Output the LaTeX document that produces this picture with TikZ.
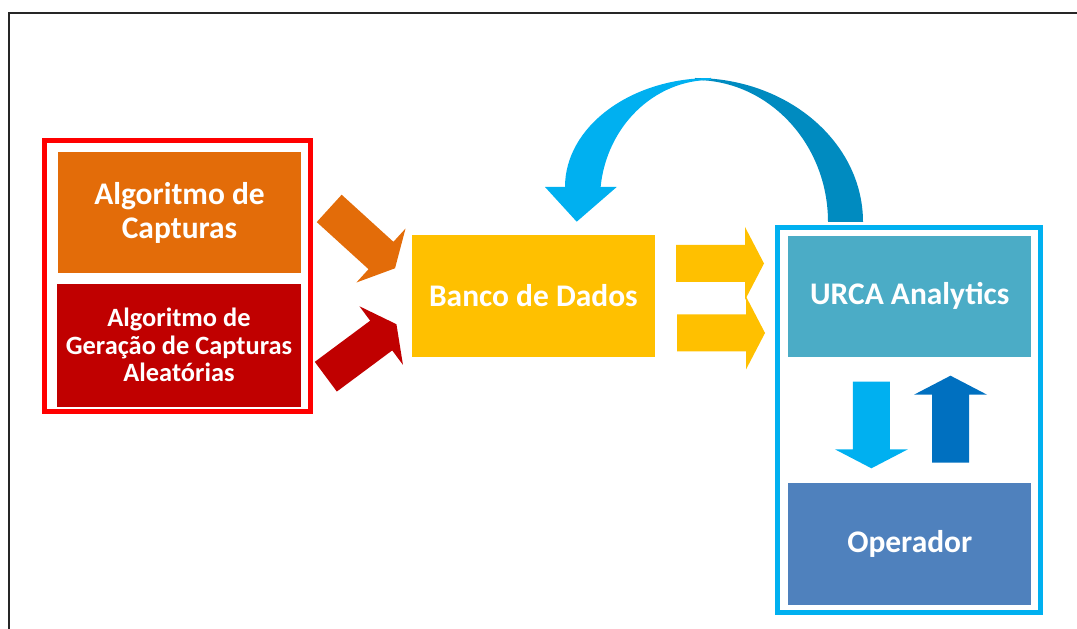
\documentclass[tikz,border=0pt]{standalone}
\usepackage{fontspec}
\setmainfont{Carlito}
\definecolor{algC}{HTML}{E36C09}
\definecolor{gerC}{HTML}{C00000}
\definecolor{dbC}{HTML}{FFC000}
\definecolor{urcaC}{HTML}{4BACC6}
\definecolor{opC}{HTML}{4F81BD}
\definecolor{cyanC}{HTML}{00B0F0}
\definecolor{darkcyanC}{HTML}{008BC0}
\definecolor{upC}{HTML}{0070C0}
\newcommand\blkarrow[4]{%
  \begin{scope}[shift={(#2)},rotate=#3]
    \fill[#1] (0,-18.5) -- ({#4-19},-18.5) -- ({#4-19},-36.5) -- (#4,0)
      -- ({#4-19},36.5) -- ({#4-19},18.5) -- (0,18.5) -- cycle;
  \end{scope}}
\begin{document}
\begin{tikzpicture}[x=0.75pt,y=0.75pt,
  box/.style={rectangle, inner sep=0pt, outer sep=0pt, text=white, align=center,
    font=\fontsize{23.6}{25.5}\selectfont\bfseries},
  smallbox/.style={box, font=\fontsize{19.8}{20.6}\selectfont\bfseries},
  frame/.style={line width=3.75pt}]
\useasboundingbox (0,0) rectangle (1077,628);
% outer frame
\draw[black!85, line width=1.5pt] (9,-5) -- (9,615) -- (1085,615);
% group frames
\draw[frame, red] (44.5,216) rectangle (310,487.5);
\draw[frame, cyanC] (777.5,15.5) rectangle (1040,400.5);
% boxes
\node[box, fill=algC, minimum width=181.8pt, minimum height=91.2pt] (alg) at (179.5,415.5) {Algoritmo de\\Capturas};
\node[smallbox, fill=gerC, minimum width=182.6pt, minimum height=91.9pt] (ger) at (179,282.75) {Algoritmo de\\Geração de Capturas\\Aleatórias};
\node[box, fill=dbC, minimum width=182.5pt, minimum height=91.3pt] (db) at (533.4,332.1) {Banco de Dados};
\node[box, fill=urcaC, minimum width=181.9pt, minimum height=90.5pt] (urca) at (909.75,331.65) {URCA Analytics};
\node[box, fill=opC, minimum width=181.9pt, minimum height=91.5pt] (op) at (909.75,84) {Operador};
% arrow tails
\coordinate (t1) at (329.2,419.6);
\coordinate (t2) at (325.8,251.3);
\coordinate (t3) at (676,364.5);
\coordinate (t4) at (677,295);
\coordinate (t5) at (871.4,246.3);
\coordinate (t6) at (950.5,165.3);
\blkarrow{algC}{t1}{-42.3}{89}
\blkarrow{gerC}{t2}{36.6}{88}
\blkarrow{dbC}{t3}{0}{88}
\blkarrow{dbC}{t4}{0}{88}
\blkarrow{cyanC}{t5}{-90}{86.6}
\blkarrow{upC}{t6}{90}{87}
% curved arrow
\fill[darkcyanC] (863,406) arc[start angle=0, end angle=90, x radius=168, y radius=144]
  -- (695,548) arc[start angle=90, end angle=0, x radius=133, y radius=142] -- cycle;
\fill[cyanC] (711,550) arc[start angle=90, end angle=180, x radius=146, y radius=109]
  -- (545,441) -- (576.7,406.3) -- (616.7,441) -- (600.6,441)
  arc[start angle=173.8, end angle=90, x radius=111, y radius=120] -- cycle;
\end{tikzpicture}
\end{document}
